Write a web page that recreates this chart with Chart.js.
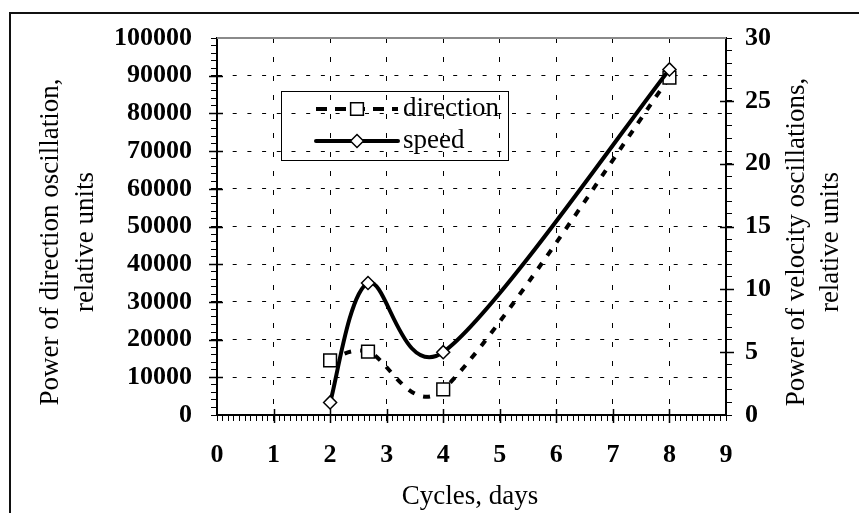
<!DOCTYPE html>
<html>
<head>
<meta charset="utf-8">
<script src="https://cdn.jsdelivr.net/npm/chart.js@4"></script>
<style>
  html, body { margin: 0; padding: 0; background: #fff; overflow: hidden; }
  #frame { position: absolute; left: 9px; top: 12px; width: 1000px; height: 1000px; border: 2px solid #111; }
  #can { position: absolute; left: 0; top: 0; }
</style>
</head>
<body>
<div id="frame"></div>
<div id="can"><canvas id="myChart" width="859" height="513"></canvas></div>
<script>
// data
const xDays = [2, 2.67, 4, 8];
const directionPower = [14500, 16800, 6800, 89500];
const speedPower = [1.0, 10.5, 5.0, 27.5];
const seriesNames = ['direction', 'speed'];
const xTitle = 'Cycles, days';
const yLeftTitle = ['Power of direction oscillation,', 'relative units'];
const yRightTitle = ['Power of velocity oscillations,', 'relative units'];

const SERIF = "'Liberation Serif', 'Times New Roman', serif";
Chart.defaults.font.family = SERIF;
Chart.defaults.color = '#000';

function isWhole(v, step) {
    let r = v / step;
    return Math.abs(r - Math.round(r)) < 1e-6;
}

// Excel style smoothing: catmull-rom control points, arms capped at half the segment
function excelSmooth(chart) {
    chart.data.datasets.forEach((ds, di) => {
        const meta = chart.getDatasetMeta(di);
        meta.dataset.updateControlPoints(chart.chartArea, 'x');
        const pts = meta.data;
        const n = pts.length;
        for (let i = 0; i < n; i++) {
            let prev = pts[Math.max(i - 1, 0)];
            let next = pts[Math.min(i + 1, n - 1)];
            let p = pts[i];
            let dx = (next.x - prev.x) / 6, dy = (next.y - prev.y) / 6;
            let arm = Math.hypot(dx, dy) || 1;
            let k1 = Math.min(1, 0.5 * Math.hypot(p.x - prev.x, p.y - prev.y) / arm);
            let k2 = Math.min(1, 0.5 * Math.hypot(next.x - p.x, next.y - p.y) / arm);
            p.cp1x = p.x - dx * k1;
            p.cp1y = p.y - dy * k1;
            p.cp2x = p.x + dx * k2;
            p.cp2y = p.y + dy * k2;
        }
    });
}

// titles, legend, top frame line, crossing major ticks
const decor = {
    id: 'decor',
    beforeDatasetsDraw(chart) {
        excelSmooth(chart);
        const ctx = chart.ctx;
        const a = chart.chartArea;
        ctx.save();
        ctx.strokeStyle = '#8a8a8a';
        ctx.lineWidth = 2;
        ctx.beginPath();
        ctx.moveTo(a.left, a.top);
        ctx.lineTo(a.right, a.top);
        ctx.stroke();

        // major ticks cross the axes
        ctx.strokeStyle = '#000';
        ctx.lineWidth = 1.5;
        const sx = chart.scales.x, sy = chart.scales.y, sy2 = chart.scales.y2;
        ctx.beginPath();
        for (let v = 1; v <= 8; v++) {
            let p = Math.round(sx.getPixelForValue(v)) + 0.5;
            ctx.moveTo(p, a.bottom - 6);
            ctx.lineTo(p, a.bottom + 8);
        }
        for (let v = 10000; v <= 90000; v += 10000) {
            let p = Math.round(sy.getPixelForValue(v)) + 0.5;
            ctx.moveTo(a.left - 8, p);
            ctx.lineTo(a.left + 6, p);
        }
        for (let v = 5; v <= 25; v += 5) {
            let p = Math.round(sy2.getPixelForValue(v)) + 0.5;
            ctx.moveTo(a.right - 6, p);
            ctx.lineTo(a.right + 8, p);
        }
        ctx.stroke();
        ctx.restore();
    },
    afterDraw(chart) {
        const ctx = chart.ctx;
        ctx.save();
        ctx.fillStyle = '#000';
        ctx.font = '27px ' + SERIF;
        ctx.textAlign = 'center';
        ctx.textBaseline = 'middle';

        function vtext(lines, xs, y) {
            lines.forEach((t, i) => {
                ctx.save();
                ctx.translate(xs[i], y);
                ctx.rotate(-Math.PI / 2);
                ctx.fillText(t, 0, 0);
                ctx.restore();
            });
        }
        vtext(yLeftTitle, [51, 86], 242);
        vtext(yRightTitle, [797, 831], 242);
        ctx.fillText(xTitle, 470, 497);

        // legend box
        ctx.strokeStyle = '#000';
        ctx.lineWidth = 1;
        ctx.strokeRect(281.5, 91.5, 227, 69);
        const rows = [109, 141];
        chart.data.datasets.forEach((ds, i) => {
            let y = rows[i];
            ctx.save();
            ctx.strokeStyle = ds.borderColor;
            ctx.lineWidth = ds.borderWidth;
            ctx.setLineDash(ds.borderDash ? [11, 8] : []);
            ctx.lineCap = ds.borderDash ? 'butt' : 'round';
            ctx.beginPath();
            ctx.moveTo(316, y);
            ctx.lineTo(398, y);
            ctx.stroke();
            ctx.setLineDash([]);
            ctx.fillStyle = ds.pointBackgroundColor;
            ctx.strokeStyle = ds.pointBorderColor;
            ctx.lineWidth = ds.pointBorderWidth;
            Chart.helpers.drawPoint(ctx, {
                pointStyle: ds.pointStyle, rotation: 0,
                radius: ds.pointRadius, borderWidth: ds.pointBorderWidth
            }, 357, y);
            ctx.restore();
            ctx.textAlign = 'left';
            ctx.fillText(ds.label, 403, y);
        });
        ctx.restore();
    }
};

const ctx = document.getElementById('myChart').getContext('2d');

var myChart = new Chart(ctx, {
    type: 'line',
    data: {
        datasets: [{
            label: seriesNames[0],
            data: xDays.map((x, i) => ({ x: x, y: directionPower[i] })),
            yAxisID: 'y',
            borderColor: '#000',
            borderWidth: 4,
            borderDash: [7, 9],
            tension: 0.4,
            pointStyle: 'rect',
            pointRadius: 9,
            pointBorderWidth: 1.5,
            pointBackgroundColor: '#fff',
            pointBorderColor: '#000',
            order: 1
        }, {
            label: seriesNames[1],
            data: xDays.map((x, i) => ({ x: x, y: speedPower[i] })),
            yAxisID: 'y2',
            borderColor: '#000',
            borderWidth: 4,
            tension: 0.4,
            pointStyle: 'rectRot',
            pointRadius: 6.5,
            pointBorderWidth: 1.5,
            pointBackgroundColor: '#fff',
            pointBorderColor: '#000',
            order: 0
        }]
    },
    options: {
        responsive: false,
        animation: false,
        layout: { padding: { top: 38, left: 0, right: 0, bottom: 0 } },
        plugins: {
            legend: { display: false },
            tooltip: { enabled: false }
        },
        scales: {
            x: {
                type: 'linear',
                min: 0, max: 9,
                afterFit: s => { s.height = 98; },
                ticks: {
                    stepSize: 0.1,
                    autoSkip: false,
                    maxRotation: 0,
                    padding: 19,
                    font: { size: 26, weight: 'bold' },
                    callback: v => isWhole(v, 1) ? String(Math.round(v)) : ''
                },
                grid: {
                    color: c => (c.tick && isWhole(c.tick.value, 1) && c.tick.value > 0 && c.tick.value < 9) ? '#000' : 'rgba(0,0,0,0)',
                    tickColor: '#000',
                    tickLength: 6,
                    lineWidth: 1,
                    tickWidth: 1
                },
                border: { color: '#000', width: 2, dash: [5, 14] }
            },
            y: {
                position: 'left',
                min: 0, max: 100000,
                afterFit: s => { s.width = 217; },
                ticks: {
                    stepSize: 2000,
                    autoSkip: false,
                    padding: 19,
                    font: { size: 26, weight: 'bold' },
                    callback: v => isWhole(v, 10000) ? String(v) : ''
                },
                grid: {
                    color: c => (c.tick && isWhole(c.tick.value, 10000) && c.tick.value > 0 && c.tick.value < 100000) ? '#000' : 'rgba(0,0,0,0)',
                    tickColor: '#000',
                    tickLength: 6,
                    lineWidth: 1,
                    tickWidth: 1
                },
                border: { color: '#000', width: 2, dash: [4, 10.7] }
            },
            y2: {
                position: 'right',
                min: 0, max: 30,
                afterFit: s => { s.width = 133; },
                ticks: {
                    stepSize: 1,
                    autoSkip: false,
                    padding: 13,
                    font: { size: 26, weight: 'bold' },
                    callback: v => isWhole(v, 5) ? String(v) : ''
                },
                grid: {
                    drawOnChartArea: false,
                    tickColor: '#000',
                    tickLength: 6,
                    tickWidth: 1
                },
                border: { color: '#000', width: 2 }
            }
        }
    },
    plugins: [decor]
});
</script>
</body>
</html>
